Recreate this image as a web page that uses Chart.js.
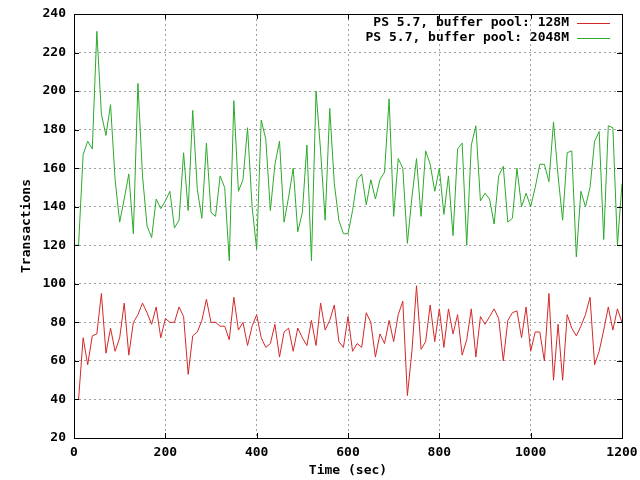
<!DOCTYPE html>
<html>
<head>
<meta charset="utf-8">
<script src="https://cdn.jsdelivr.net/npm/chart.js@4.4.0/dist/chart.umd.min.js"></script>
<style>
html, body { margin: 0; padding: 0; background: #fff; }
</style>
</head>
<body>
<canvas id="chart" width="640" height="480"></canvas>
<script>
// samples every 10 sec, 0..1200
const sampleStep = 10;
const xTicks = [0, 200, 400, 600, 800, 1000, 1200];
const yTicks = [20, 40, 60, 80, 100, 120, 140, 160, 180, 200, 220, 240];

const labelSmall = 'PS 5.7, buffer pool: 128M';
const labelLarge = 'PS 5.7, buffer pool: 2048M';

const tpsSmall = [
    null, 40, 72, 58, 73, 74, 95, 64, 77, 65, 72, 90, 63, 80, 84, 90, 85, 79, 88, 72,
    82, 80, 80, 88, 83, 53, 73, 75, 81, 92, 80, 80, 78, 78, 71, 93, 76, 80, 68, 78,
    84, 72, 67, 69, 79, 62, 75, 77, 65, 77, 72, 68, 81, 68, 90, 76, 81, 89, 70, 67,
    83, 65, 69, 67, 85, 80, 62, 74, 69, 81, 70, 84, 91, 42, 65, 99, 66, 70, 89, 70,
    87, 67, 87, 74, 84, 63, 71, 87, 62, 83, 79, 83, 87, 82, 60, 81, 85, 86, 72, 88,
    65, 75, 75, 60, 95, 50, 79, 50, 84, 77, 73, 78, 84, 93, 58, 65, 76, 88, 76, 87,
    80
];

const tpsLarge = [
    120, 120, 167, 174, 170, 231, 188, 177, 193, 154, 132, 144, 157, 126, 204, 156, 130, 124, 144, 139,
    143, 148, 129, 133, 168, 138, 190, 149, 134, 173, 137, 135, 156, 150, 112, 195, 148, 154, 181, 140,
    118, 185, 175, 138, 162, 174, 132, 145, 160, 127, 137, 172, 112, 200, 169, 133, 191, 152, 133, 126,
    126, 138, 154, 157, 141, 154, 144, 154, 158, 196, 135, 165, 160, 121, 145, 165, 135, 169, 162, 148,
    160, 136, 156, 125, 170, 173, 120, 172, 182, 143, 147, 144, 131, 156, 161, 132, 134, 160, 140, 147,
    140, 150, 162, 162, 153, 184, 156, 133, 168, 169, 114, 148, 140, 150, 174, 179, 123, 182, 181, 120,
    152
];

const FONT = { family: '"DejaVu Sans Mono", monospace', size: 13, weight: 'bold' };
const fontStr = 'bold 13px "DejaVu Sans Mono", monospace';

function toPoints(values) {
    return values.map((v, i) => ({ x: i * sampleStep, y: v }));
}

// gnuplot-like frame: full border, inward ticks on all sides, key in top right
const framePlugin = {
    id: 'frame',
    afterDraw(chart) {
        const { ctx, chartArea: a, scales } = chart;
        const x = scales.x, y = scales.y;
        ctx.save();
        ctx.strokeStyle = '#000';
        ctx.lineWidth = 1;
        ctx.strokeRect(a.left + 0.5, a.top + 0.5, a.right - a.left, a.bottom - a.top);

        ctx.beginPath();
        xTicks.forEach(v => {
            const px = Math.round(x.getPixelForValue(v)) + 0.5;
            ctx.moveTo(px, a.bottom); ctx.lineTo(px, a.bottom - 5);
            ctx.moveTo(px, a.top); ctx.lineTo(px, a.top + 5);
        });
        yTicks.forEach(v => {
            const py = Math.round(y.getPixelForValue(v)) + 0.5;
            ctx.moveTo(a.left, py); ctx.lineTo(a.left + 5, py);
            ctx.moveTo(a.right, py); ctx.lineTo(a.right - 5, py);
        });
        ctx.stroke();

        ctx.font = fontStr;
        ctx.textAlign = 'right';
        ctx.textBaseline = 'middle';
        chart.data.datasets.forEach((ds, i) => {
            const ly = 23 + i * 15;
            ctx.fillStyle = '#000';
            ctx.fillText(ds.label, 569, ly);
            ctx.strokeStyle = ds.borderColor;
            ctx.beginPath();
            ctx.moveTo(577, ly + 0.5);
            ctx.lineTo(610, ly + 0.5);
            ctx.stroke();
        });
        ctx.restore();
    }
};

new Chart(document.getElementById('chart').getContext('2d'), {
    type: 'line',
    data: {
        datasets: [{
            label: labelSmall,
            data: toPoints(tpsSmall),
            borderColor: '#d42828',
            borderWidth: 1,
            pointRadius: 0,
            tension: 0,
            fill: false
        }, {
            label: labelLarge,
            data: toPoints(tpsLarge),
            borderColor: '#2caa2c',
            borderWidth: 1,
            pointRadius: 0,
            tension: 0,
            fill: false
        }]
    },
    options: {
        responsive: false,
        animation: false,
        devicePixelRatio: 1,
        layout: { padding: { top: 14, right: 18, left: 0, bottom: 0 } },
        plugins: { legend: { display: false }, tooltip: { enabled: false } },
        scales: {
            x: {
                type: 'linear',
                min: 0,
                max: 1200,
                afterBuildTicks: s => { s.ticks = xTicks.map(v => ({ value: v })); },
                afterFit: s => { s.height = 42; s.paddingLeft = 0; s.paddingRight = 0; },
                grid: { color: '#a0a0a0', lineWidth: 1, drawTicks: false },
                border: { display: false, dash: [2, 3] },
                ticks: { color: '#000', font: FONT, padding: 7, maxRotation: 0, autoSkip: false, callback: v => String(v) },
                title: { display: true, text: 'Time (sec)', color: '#000', font: FONT, padding: { top: 0, bottom: 2 } }
            },
            y: {
                min: 20,
                max: 240,
                afterBuildTicks: s => { s.ticks = yTicks.map(v => ({ value: v })); },
                afterFit: s => { s.width = 74; s.paddingTop = 0; s.paddingBottom = 0; },
                grid: { color: '#a0a0a0', lineWidth: 1, drawTicks: false },
                border: { display: false, dash: [2, 3] },
                ticks: { color: '#000', font: FONT, padding: 8, autoSkip: false, callback: v => String(v) },
                title: { display: true, text: 'Transactions', color: '#000', font: FONT, padding: { top: 19, bottom: 0 } }
            }
        }
    },
    plugins: [framePlugin]
});
</script>
</body>
</html>
